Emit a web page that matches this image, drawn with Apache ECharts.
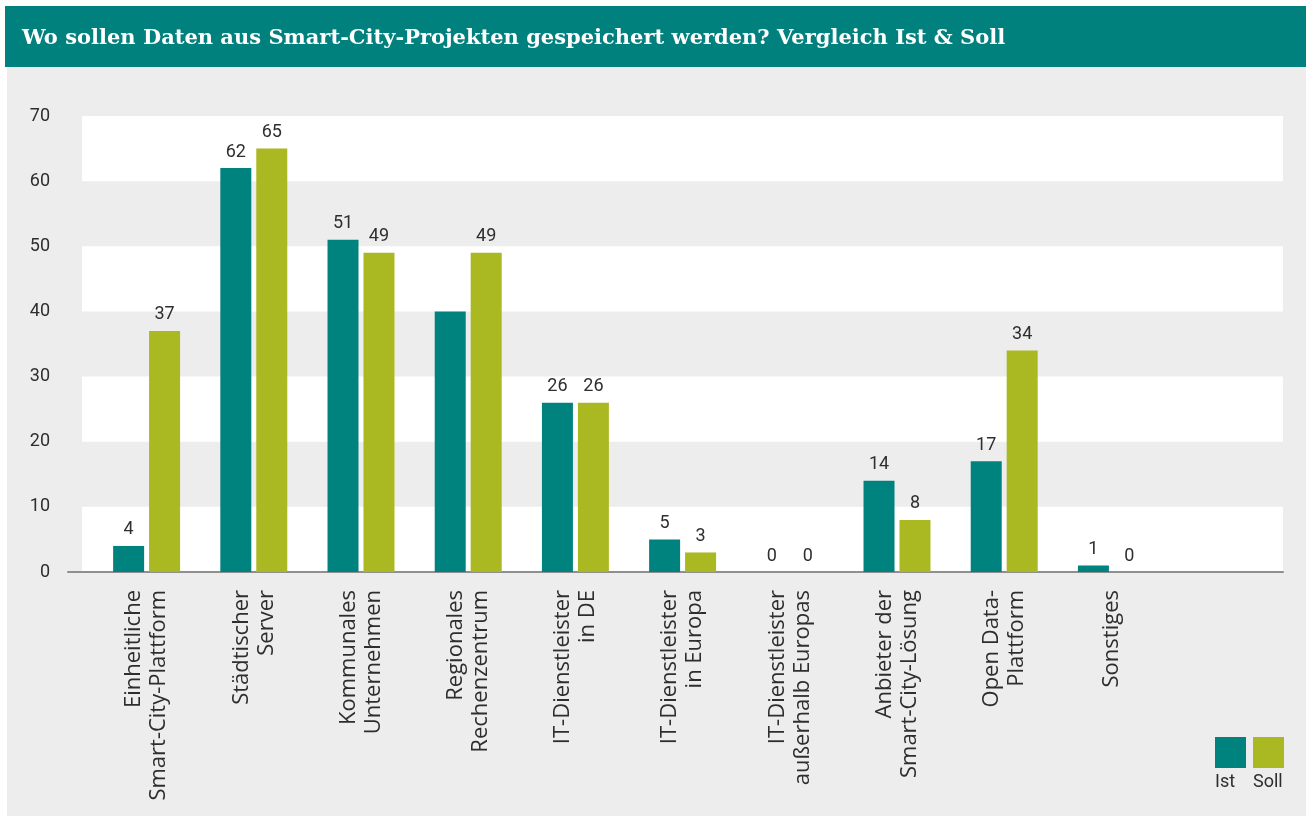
<!DOCTYPE html>
<html>
<head>
<meta charset="utf-8">
<script src="https://cdn.jsdelivr.net/npm/echarts@6/dist/echarts.min.js"></script>
<style>
  html, body { margin: 0; padding: 0; background: #fff; }
  #chart { width: 1306px; height: 816px; }
</style>
</head>
<body>
<div id="chart"></div>
<script>
    // data
    var categories = [
        'Einheitliche\nSmart-City-Plattform',
        'Städtischer\nServer',
        'Kommunales\nUnternehmen',
        'Regionales\nRechenzentrum',
        'IT-Dienstleister\nin DE',
        'IT-Dienstleister\nin Europa',
        'IT-Dienstleister\naußerhalb Europas',
        'Anbieter der\nSmart-City-Lösung',
        'Open Data-\nPlattform',
        'Sonstiges'
    ];
    var seriesNames = ['Ist', 'Soll'];
    var istValues = [4, 62, 51, 40, 26, 5, 0, 14, 17, 1];
    var sollValues = [37, 65, 49, 49, 26, 3, 0, 8, 34, 0];
    // the original has no value label on this bar
    var istHiddenLabels = [3];
    var yTicks = [0, 10, 20, 30, 40, 50, 60, 70];

    var teal = '#00827f';
    var green = '#aab822';
    var textColor = '#2e2e2e';

    var chart = echarts.init(document.getElementById('chart'));

    var istData = istValues.map(function (v, i) {
        if (istHiddenLabels.indexOf(i) >= 0) {
            return {value: v, label: {show: false}};
        }
        return v;
    });

    var valueLabel = {
        show: true,
        position: 'top',
        distance: 7,
        color: textColor,
        fontFamily: 'Roboto',
        fontSize: 18
    };

    var option = {
        backgroundColor: '#ffffff',
        animation: false,
        title: {
            text: 'Wo sollen Daten aus Smart-City-Projekten gespeichert werden? Vergleich Ist & Soll',
            left: 22,
            top: 28,
            padding: 0,
            textStyle: {
                color: '#ffffff',
                fontFamily: 'DejaVu Serif',
                fontWeight: 'bold',
                fontSize: 21
            }
        },
        graphic: [
            {type: 'rect', z: -10, shape: {x: 7, y: 67, width: 1299, height: 749}, style: {fill: '#ededed'}},
            {type: 'rect', z: -10, shape: {x: 5, y: 6, width: 1301, height: 61}, style: {fill: '#00817e'}},
            {type: 'text', left: 1215, top: 773, style: {text: 'Ist', fill: textColor, font: '18px Roboto'}},
            {type: 'text', left: 1253, top: 773, style: {text: 'Soll', fill: textColor, font: '18px Roboto'}}
        ],
        legend: {
            data: seriesNames,
            right: 17,
            top: 732,
            itemWidth: 31,
            itemHeight: 31,
            itemGap: 7,
            icon: 'rect',
            formatter: function () { return ''; },
            textStyle: {fontSize: 1}
        },
        grid: [
            // axis line
            {left: 68, right: 23, top: 116, height: 456},
            // white bands
            {left: 82, right: 23, top: 116, height: 456},
            // bars
            {left: 93, width: 1072, top: 116, height: 456}
        ],
        xAxis: [
            {
                gridIndex: 0, type: 'value', min: 0, max: 1,
                axisLine: {show: true, lineStyle: {color: '#8f8f8f', width: 2}},
                axisTick: {show: false}, axisLabel: {show: false}, splitLine: {show: false}
            },
            {
                gridIndex: 1, type: 'value', min: 0, max: 1, show: false
            },
            {
                gridIndex: 2, type: 'category', data: categories,
                axisLine: {show: false}, axisTick: {show: false},
                axisLabel: {
                    interval: 0,
                    rotate: 90,
                    margin: 18,
                    color: textColor,
                    fontFamily: 'Open Sans',
                    fontSize: 22,
                    lineHeight: 25
                }
            }
        ],
        yAxis: [
            {gridIndex: 0, type: 'value', min: 0, max: 70, show: false},
            {
                gridIndex: 1, type: 'value', min: 0, max: 70, interval: 10,
                axisLine: {show: false}, axisTick: {show: false},
                splitLine: {show: false},
                splitArea: {show: true, areaStyle: {color: ['#ffffff', 'rgba(0,0,0,0)']}},
                axisLabel: {
                    margin: 32,
                    color: textColor,
                    fontFamily: 'Roboto',
                    fontSize: 18,
                    formatter: function (v) { return yTicks.indexOf(v) >= 0 ? String(v) : ''; }
                }
            },
            {gridIndex: 2, type: 'value', min: 0, max: 70, interval: 10, show: false}
        ],
        series: [
            {
                name: seriesNames[0],
                type: 'bar',
                xAxisIndex: 2,
                yAxisIndex: 2,
                barWidth: 31,
                barGap: '16%',
                itemStyle: {color: teal},
                label: valueLabel,
                data: istData
            },
            {
                name: seriesNames[1],
                type: 'bar',
                xAxisIndex: 2,
                yAxisIndex: 2,
                barWidth: 31,
                barGap: '16%',
                itemStyle: {color: green},
                label: valueLabel,
                data: sollValues
            }
        ]
    };
    chart.setOption(option);
</script>
</body>
</html>
